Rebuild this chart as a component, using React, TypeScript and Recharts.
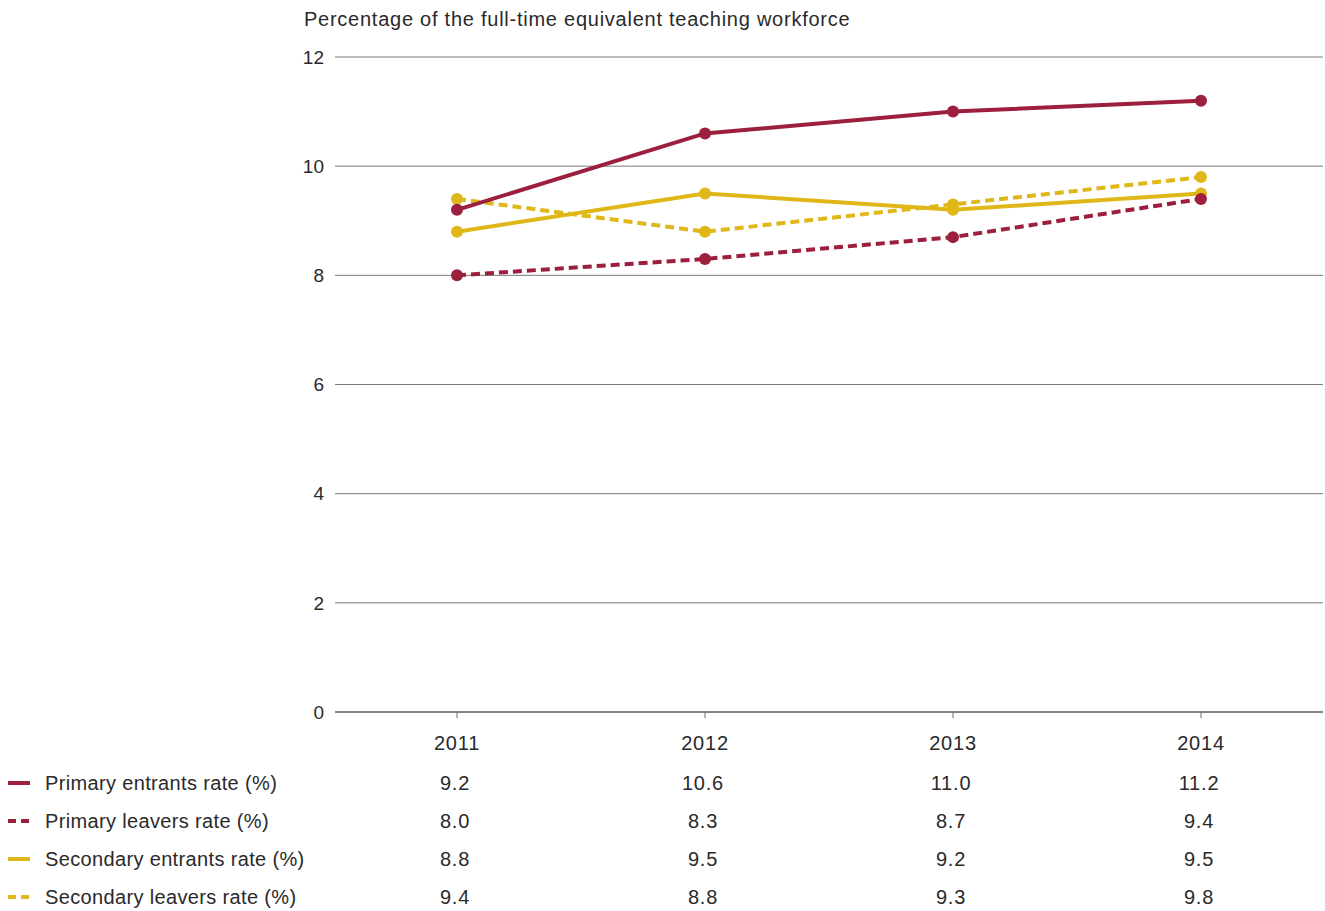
import { CartesianGrid, Line, LineChart, XAxis, YAxis } from "recharts";

const years = ["2011", "2012", "2013", "2014"];
const primaryEntrants = [9.2, 10.6, 11.0, 11.2];
const primaryLeavers = [8.0, 8.3, 8.7, 9.4];
const secondaryEntrants = [8.8, 9.5, 9.2, 9.5];
const secondaryLeavers = [9.4, 8.8, 9.3, 9.8];
const yTicks = [0, 2, 4, 6, 8, 10, 12];

const RED = "#9c1f3e";
const GOLD = "#e0b718";
const FONT = "'Liberation Sans', Arial, Helvetica, sans-serif";
const TEXT = "#2a2a2a";

type SeriesDef = {
  key: string;
  label: string;
  values: number[];
  color: string;
  dashed: boolean;
};

const series: SeriesDef[] = [
  { key: "primaryEntrants", label: "Primary entrants rate (%)", values: primaryEntrants, color: RED, dashed: false },
  { key: "primaryLeavers", label: "Primary leavers rate (%)", values: primaryLeavers, color: RED, dashed: true },
  { key: "secondaryEntrants", label: "Secondary entrants rate (%)", values: secondaryEntrants, color: GOLD, dashed: false },
  { key: "secondaryLeavers", label: "Secondary leavers rate (%)", values: secondaryLeavers, color: GOLD, dashed: true },
];

// order the lines are painted in (primary on top)
const drawOrder = ["secondaryEntrants", "secondaryLeavers", "primaryEntrants", "primaryLeavers"];

const chartData = years.map((year, i) => {
  const row: Record<string, string | number> = { year };
  for (const s of series) row[s.key] = s.values[i];
  return row;
});

const rowBaselines = [790, 828, 866, 904];

function TableTick(props: any) {
  const { x, y, payload, index } = props;
  return (
    <g fontFamily={FONT} fontSize={20} fill={TEXT} letterSpacing={0.8}>
      <text x={x} y={y} dy={30} textAnchor="middle" fill={TEXT}>
        {payload.value}
      </text>
      {series.map((s, r) => (
        <text
          key={s.key}
          x={x - 2}
          y={rowBaselines[r]}
          textAnchor="middle"
          fill={TEXT}
        >
          {s.values[index].toFixed(1)}
        </text>
      ))}
    </g>
  );
}

export default function App() {
  return (
    <div
      style={{
        position: "absolute",
        left: 0,
        top: 0,
        width: 1325,
        height: 911,
        background: "#ffffff",
        fontFamily: FONT,
        color: TEXT,
      }}
    >
      <div
        style={{
          position: "absolute",
          left: 304,
          top: 7,
          fontSize: 20,
          lineHeight: "24px",
          letterSpacing: 0.75,
          whiteSpace: "nowrap",
        }}
      >
        Percentage of the full-time equivalent teaching workforce
      </div>

      <LineChart
        width={1325}
        height={911}
        data={chartData}
        margin={{ top: 57, right: 2, bottom: 0, left: 0 }}
      >
        <CartesianGrid horizontal vertical={false} stroke="#7a7a7a" strokeWidth={1} />
        <XAxis
          dataKey="year"
          height={199}
          padding={{ left: 122, right: 122 }}
          axisLine={{ stroke: "#6f6f6f", strokeWidth: 1.5 }}
          tickLine={{ stroke: "#6f6f6f" }}
          tickSize={6}
          tickMargin={2}
          interval={0}
          tick={<TableTick />}
        />
        <YAxis
          width={335}
          domain={[0, 12]}
          ticks={yTicks}
          axisLine={false}
          tickLine={false}
          tickSize={0}
          tickMargin={11}
          tick={{ fill: TEXT, fontSize: 19, fontFamily: FONT }}
        />
        {drawOrder.map((key) => {
          const s = series.find((d) => d.key === key)!;
          return (
            <Line
              key={s.key}
              type="linear"
              dataKey={s.key}
              name={s.label}
              stroke={s.color}
              strokeWidth={4}
              strokeDasharray={s.dashed ? "9 5" : undefined}
              dot={{ r: 6, fill: s.color, stroke: "none" }}
              activeDot={false}
              isAnimationActive={false}
            />
          );
        })}
      </LineChart>

      {series.map((s, r) => (
        <div
          key={s.key}
          style={{
            position: "absolute",
            left: 8,
            top: rowBaselines[r] - 19,
            height: 24,
            display: "flex",
            alignItems: "center",
            fontSize: 20,
            letterSpacing: 0.35,
            whiteSpace: "nowrap",
          }}
        >
          <svg width={24} height={6} style={{ marginRight: 13 }}>
            <line
              x1={0}
              y1={3}
              x2={22}
              y2={3}
              stroke={s.color}
              strokeWidth={4}
              strokeDasharray={s.dashed ? "8 5" : undefined}
            />
          </svg>
          {s.label}
        </div>
      ))}
    </div>
  );
}
